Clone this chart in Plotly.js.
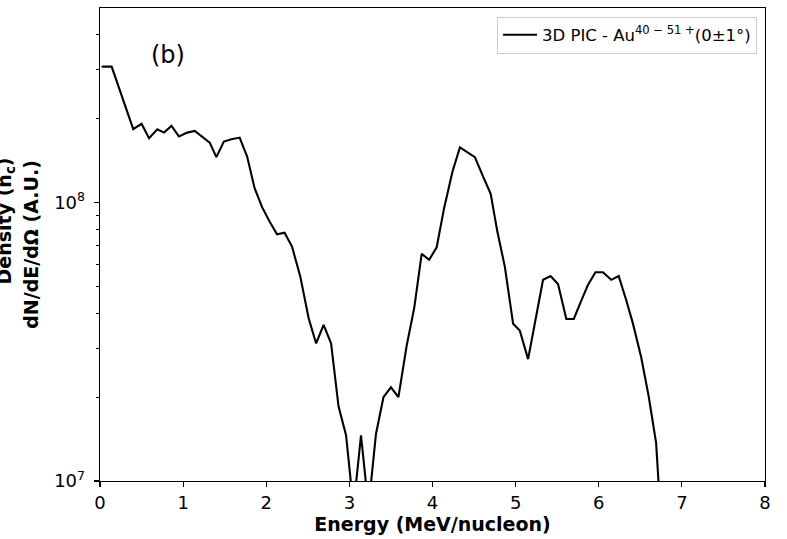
<!DOCTYPE html>
<html>
<head>
<meta charset="utf-8">
<script src="https://cdn.plot.ly/plotly-3.0.1.min.js"></script>
<style>html,body{margin:0;padding:0;background:#fff;}#chart{width:787px;height:539px;}</style>
</head>
<body>
<div id="chart"></div>
<script>
// Energy (MeV/nucleon)
const energy = [0.02, 0.14, 0.40, 0.50, 0.59, 0.69, 0.77, 0.86, 0.95, 1.05, 1.14, 1.22, 1.32, 1.40, 1.49, 1.58, 1.68,
  1.77, 1.86, 1.95, 2.04, 2.13, 2.22, 2.31, 2.41, 2.51, 2.60, 2.69, 2.78, 2.87, 2.96, 3.05, 3.14, 3.23, 3.32,
  3.41, 3.50, 3.59, 3.69, 3.78, 3.87, 3.96, 4.05, 4.14, 4.24, 4.33, 4.42, 4.51, 4.60, 4.70, 4.78, 4.87, 4.97,
  5.05, 5.15, 5.24, 5.33, 5.42, 5.51, 5.61, 5.70, 5.78, 5.87, 5.96, 6.05, 6.15, 6.24, 6.33, 6.41, 6.51, 6.60,
  6.69, 6.78];
// dN/dE/dOmega (A.U.)
const density = [3.08e8, 3.08e8, 1.835e8, 1.918e8, 1.703e8, 1.835e8, 1.784e8, 1.886e8, 1.727e8, 1.784e8, 1.81e8, 1.737e8, 1.643e8, 1.456e8, 1.657e8, 1.69e8, 1.712e8,
  1.463e8, 1.126e8, 9.63e7, 8.55e7, 7.70e7, 7.80e7, 6.95e7, 5.42e7, 3.84e7, 3.12e7, 3.64e7, 3.12e7, 1.85e7, 1.46e7, 8.0e6, 1.46e7, 8.0e6, 1.475e7,
  2.0e7, 2.17e7, 2.0e7, 3.07e7, 4.18e7, 6.54e7, 6.23e7, 6.91e7, 9.57e7, 1.29e8, 1.58e8, 1.515e8, 1.456e8, 1.258e8, 1.075e8, 7.87e7, 5.89e7, 3.67e7,
  3.47e7, 2.74e7, 3.82e7, 5.28e7, 5.45e7, 5.10e7, 3.82e7, 3.82e7, 4.37e7, 5.06e7, 5.62e7, 5.62e7, 5.28e7, 5.45e7, 4.47e7, 3.69e7, 2.79e7, 2.02e7,
  1.37e7, 5.0e6];

const xTickVals = [0, 1, 2, 3, 4, 5, 6, 7, 8];
const yTickVals = [1e7, 1e8];
const yTickText = ['10<sup>7</sup>', '10<sup>8</sup>'];
const yMinorVals = [2e7, 3e7, 4e7, 5e7, 6e7, 7e7, 8e7, 9e7, 2e8, 3e8, 4e8];
const seriesName = '3D PIC - Au<sup>40 − 51 +</sup>(0±1°)';
const panelLabel = '(b)';
const yTitleUpper = '<b>Density (n<sub>c</sub>)</b>';
const yTitleLower = '<b>dN/dE/dΩ (A.U.)</b>';

const FONT = 'DejaVu Sans, Liberation Sans, sans-serif';

const trace = {
  x: energy,
  y: density,
  type: 'scatter',
  mode: 'lines',
  name: seriesName,
  line: {color: '#000000', width: 2.1},
  showlegend: true
};

const layout = {
  width: 787,
  height: 539,
  margin: {l: 100, r: 22, t: 8, b: 58, pad: 0},
  paper_bgcolor: '#ffffff',
  plot_bgcolor: '#ffffff',
  font: {family: FONT, color: '#000000', size: 18},
  showlegend: true,
  legend: {
    x: 0.988, y: 0.982, xanchor: 'right', yanchor: 'top',
    bgcolor: 'rgba(255,255,255,0.9)', bordercolor: '#cccccc', borderwidth: 1,
    itemwidth: 34,
    font: {family: FONT, size: 16.5, color: '#000000'}
  },
  xaxis: {
    range: [0, 8],
    tickvals: xTickVals,
    ticks: 'outside', ticklen: 5, tickwidth: 1.2, tickcolor: '#000',
    showline: true, linecolor: '#000', linewidth: 1.3, mirror: true,
    showgrid: false, zeroline: false,
    tickfont: {family: FONT, size: 18, color: '#000'},
    title: {text: '<b>Energy (MeV/nucleon)</b>', font: {family: FONT, size: 19, color: '#000'}, standoff: 5}
  },
  yaxis: {
    type: 'log',
    range: [7, Math.log10(5e8)],
    tickvals: yTickVals,
    ticktext: yTickText,
    ticks: 'outside', ticklen: 5, tickwidth: 1.2, tickcolor: '#000',
    ticklabelstandoff: 5,
    minor: {tickvals: yMinorVals, ticks: 'outside', ticklen: 3, tickwidth: 1, tickcolor: '#000', showgrid: false},
    showline: true, linecolor: '#000', linewidth: 1.3, mirror: true,
    showgrid: false, zeroline: false,
    tickfont: {family: FONT, size: 18, color: '#000'},
    title: {text: yTitleLower, font: {family: FONT, size: 19, color: '#000'}, standoff: 10}
  },
  annotations: [{
    text: panelLabel, xref: 'paper', yref: 'paper', x: 0.103, y: 0.9,
    xanchor: 'center', yanchor: 'middle', showarrow: false,
    font: {family: FONT, size: 24, color: '#000'}
  }, {
    text: yTitleUpper, xref: 'paper', yref: 'paper', x: -0.142, y: 0.55,
    xanchor: 'center', yanchor: 'middle', textangle: -90, showarrow: false,
    font: {family: FONT, size: 19, color: '#000'}
  }]
};

Plotly.newPlot('chart', [trace], layout, {displayModeBar: false, staticPlot: true});
</script>
</body>
</html>
